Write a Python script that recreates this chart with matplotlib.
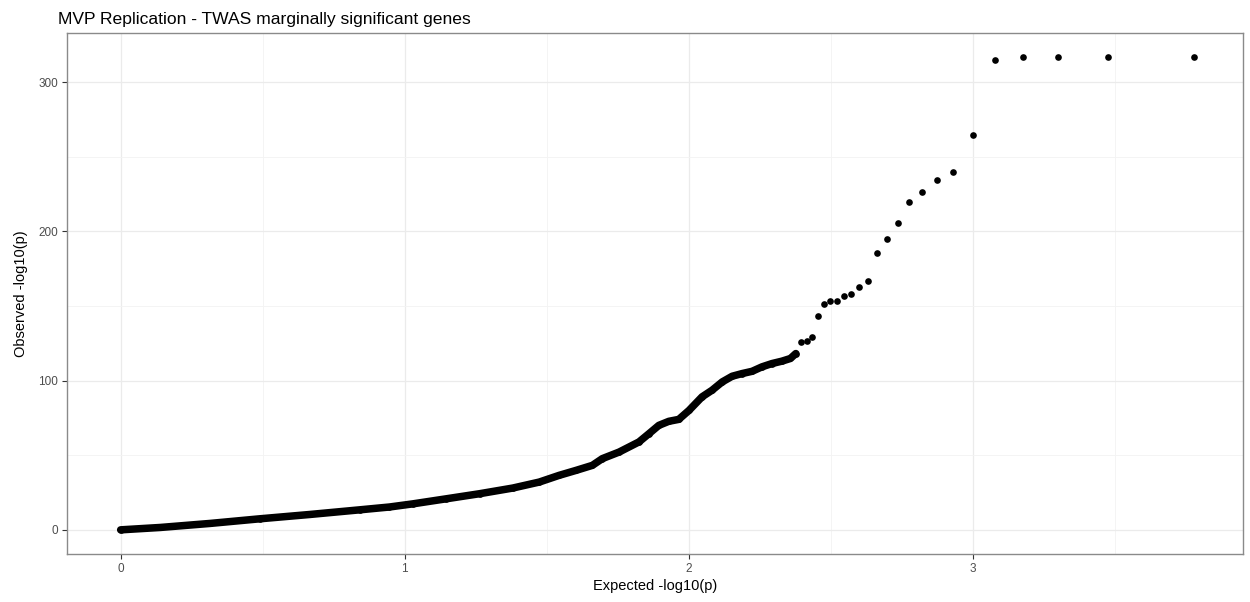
import numpy as np
import matplotlib
matplotlib.use("Agg")
import matplotlib.pyplot as plt
from matplotlib.ticker import MultipleLocator

plt.rcParams['font.family'] = ['Liberation Sans', 'DejaVu Sans']

# ---- data ----
n_genes = 5970  # number of tested genes (expected = -log10(rank / n))
# observed -log10(p) for the top-ranked genes (rank 1, 2, ...)
top_observed = [317.0, 317.0, 317.0, 317.0, 314.8, 264.6, 239.4, 234.7, 226.0,
                219.7, 205.8, 194.8, 185.4, 166.9, 162.6, 157.7, 156.6, 153.5,
                153.0, 151.2, 143.4, 129.1, 126.6, 126.0]
# dense part of the curve, read as (expected, observed) pairs
dense_expected = [0.00, 0.14, 0.315, 0.49, 0.666, 0.841, 0.946, 1.028, 1.146,
                  1.263, 1.38, 1.473, 1.543, 1.602, 1.66, 1.695, 1.754, 1.824,
                  1.859, 1.894, 1.929, 1.964, 2.0, 2.046, 2.081, 2.117, 2.152,
                  2.187, 2.222, 2.257, 2.292, 2.327, 2.357, 2.376]
dense_observed = [0.0, 1.6, 4.3, 7.4, 10.3, 13.4, 15.3, 17.4, 20.8,
                  24.2, 28.0, 32.0, 36.5, 39.8, 43.2, 47.7, 52.1, 58.9,
                  64.4, 70.0, 72.7, 74.0, 80.0, 89.1, 93.5, 99.1, 102.9,
                  104.7, 106.2, 109.2, 111.4, 113.0, 114.8, 118.1]

title = "MVP Replication - TWAS marginally significant genes"
xlabel = "Expected -log10(p)"
ylabel = "Observed -log10(p)"

top_ranks = np.arange(1, len(top_observed) + 1)
top_expected = -np.log10(top_ranks / n_genes)

# ---- figure ----
W, H = 1250, 602
fig = plt.figure(figsize=(W / 100, H / 100), dpi=100)
ax = fig.add_axes([67 / W, 1 - 553.5 / H, (1243 - 67) / W, (553.5 - 33) / H])

msize = 4.8
ax.plot(dense_expected, dense_observed, color='black', lw=5.4,
        solid_capstyle='round', solid_joinstyle='round', zorder=3)
ax.plot(dense_expected, dense_observed, 'o', color='black', ms=msize, mew=0, zorder=3)
ax.plot(top_expected, top_observed, 'o', color='black', ms=msize, mew=0, zorder=3)

xmax = max(top_expected)
ymax = max(top_observed)
ax.set_xlim(-0.05 * xmax, xmax * 1.046)
ax.set_ylim(-0.05 * ymax, ymax * 1.05)

ax.xaxis.set_major_locator(MultipleLocator(1))
ax.xaxis.set_minor_locator(MultipleLocator(0.5))
ax.yaxis.set_major_locator(MultipleLocator(100))
ax.yaxis.set_minor_locator(MultipleLocator(50))
ax.grid(which='major', color='#ebebeb', lw=0.9, zorder=0)
ax.grid(which='minor', color='#f3f3f3', lw=0.6, zorder=0)
ax.set_axisbelow(True)
ax.tick_params(which='minor', length=0)
ax.tick_params(which='major', length=3.5, width=0.8, color='#333333',
               labelsize=8.5, labelcolor='#4d4d4d', pad=3)
for s in ax.spines.values():
    s.set_color('#8a8a8a')
    s.set_linewidth(1.0)

ax.set_xlabel(xlabel, fontsize=10.5, color='black', labelpad=3)
ax.set_ylabel(ylabel, fontsize=10.5, color='black', labelpad=7)
fig.text(58 / W, 1 - 24 / H, title, fontsize=12.6, ha='left', va='baseline')

fig.savefig("out.png", dpi=100)
